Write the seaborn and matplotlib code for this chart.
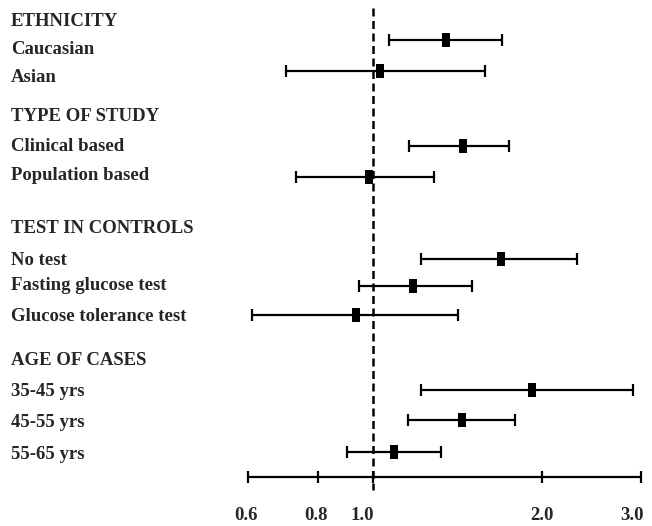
import numpy as np
import pandas as pd
import matplotlib
matplotlib.use("Agg")
import matplotlib.pyplot as plt
import seaborn as sns

# values (odds ratios with 95% CI)
headers = ["ETHNICITY", "TYPE OF STUDY", "TEST IN CONTROLS", "AGE OF CASES"]
subgroups = ["Caucasian", "Asian", "Clinical based", "Population based",
             "No test", "Fasting glucose test", "Glucose tolerance test",
             "35-45 yrs", "45-55 yrs", "55-65 yrs"]
odds_ratio = [1.35, 1.03, 1.445, 0.985, 1.69, 1.18, 0.935, 1.92, 1.44, 1.09]
ci_low = [1.07, 0.70, 1.16, 0.73, 1.22, 0.945, 0.61, 1.22, 1.155, 0.90]
ci_high = [1.70, 1.58, 1.75, 1.285, 2.31, 1.50, 1.42, 2.90, 1.79, 1.32]
tick_values = [0.6, 0.8, 1.0, 2.0, 3.0]
tick_labels = ["0.6", "0.8", "1.0", "2.0", "3.0"]

# layout, in pixel rows of the 652x526 figure
header_y = [26, 121, 233, 365]
label_y = [54, 82, 151, 180, 265, 290, 321, 396, 427, 459]
mark_y = [40, 71, 146, 177, 259, 286, 315, 390, 420, 452]
axis_y = 477
tick_label_y = 515
tick_label_shift = [-2, -2, -11, 0, -9]  # px

sns.set_style("white")
plt.rcParams["font.family"] = ["Liberation Serif", "DejaVu Serif"]
plt.rcParams["font.weight"] = "bold"
FS = 13.5

df = pd.DataFrame({"group": subgroups, "or": odds_ratio,
                   "low": ci_low, "high": ci_high, "y": mark_y})

fig = plt.figure(figsize=(6.52, 5.26), dpi=100)
ax = fig.add_axes([0, 0, 1, 1])
ax.set_xscale("log")
ax.set_xlim(0.2173, 3.137)
ax.set_ylim(526, 0)
ax.axis("off")

# reference line at OR = 1
ax.vlines(1.0, 8, 490, colors="black", linewidth=1.8, linestyles=(0, (3.2, 1.8)))

# confidence intervals
ax.errorbar(df["or"], df["y"],
            xerr=[df["or"] - df["low"], df["high"] - df["or"]],
            fmt="none", ecolor="black", elinewidth=1.6, capsize=4.3, capthick=1.6)

# point estimates (tall black rectangles)
rect = [(-0.3, -0.5), (0.3, -0.5), (0.3, 0.5), (-0.3, 0.5), (-0.3, -0.5)]
sns.scatterplot(data=df, x="or", y="y", marker=rect, s=110, color="black",
                linewidth=0, ax=ax, zorder=3, legend=False)

# hand-drawn style x axis
ax.hlines(axis_y, tick_values[0], tick_values[-1], colors="black", linewidth=1.6)
ax.plot(tick_values, [axis_y] * len(tick_values), linestyle="none",
        marker="|", markersize=9, markeredgewidth=1.6, color="black")
for v, lab, dx in zip(tick_values, tick_labels, tick_label_shift):
    ax.annotate(lab, (v, tick_label_y), xytext=(dx * 0.72, 0),
                textcoords="offset points", ha="center", va="center",
                fontsize=FS, fontweight="bold")

# row labels
tr = ax.get_yaxis_transform()
for lab, y in zip(headers, header_y):
    ax.text(0.017, y, lab, transform=tr, ha="left", va="baseline",
            fontsize=FS, fontweight="bold")
for lab, y in zip(subgroups, label_y):
    ax.text(0.017, y, lab, transform=tr, ha="left", va="baseline",
            fontsize=FS, fontweight="bold")

fig.savefig("out.png", dpi=100)
